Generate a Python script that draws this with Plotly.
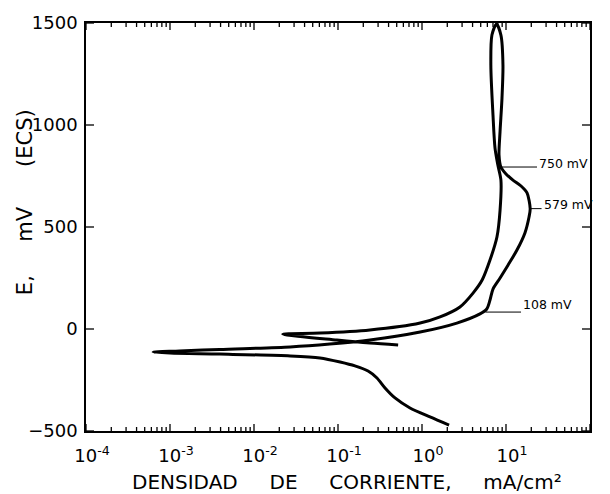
import numpy as np
import plotly.graph_objects as go

# Polarization curve (forward + reverse scan), current density in mA/cm2, potential in mV (ECS)
current = [2.1, 1.245, 0.72, 0.477, 0.363, 0.291, 0.228, 0.159, 0.106, 0.061, 0.027, 0.0039, 0.0010, 0.00063,
           0.0013, 0.0039, 0.027, 0.080, 0.24, 0.95, 2.6, 4.9, 5.9, 6.45, 7.0, 8.5, 10.6, 13.5, 16.8,
           18.8, 19.4, 17.8, 15.1, 12.1, 10.0, 8.7, 8.26, 8.49, 8.96, 9.2, 8.7, 7.7,
           6.8, 6.6, 7.0, 7.4, 8.0, 8.7, 8.5, 7.8, 6.45, 5.2, 4.05, 2.83, 1.64, 0.95, 0.24, 0.061,
           0.022, 0.097, 0.24, 0.52]
potential = [-471, -431, -387, -338, -289, -240, -206, -181, -162, -142, -132, -123, -118, -113,
             -108, -100, -88, -74, -54, -15, 29, 74, 98, 142, 196, 250, 314, 387, 471,
             549, 590, 667, 701, 730, 760, 794, 853, 966, 1132, 1294, 1441, 1495,
             1441, 1294, 1049, 887, 804, 730, 583, 451, 338, 240, 176, 108, 59, 29, -5, -20,
             -25, -54, -69, -78]

# Labelled points: text, leader start current, leader end current, potential
label_text = ["750 mV", "579 mV", "108 mV"]
label_i0 = [8.7, 19.4, 5.7]
label_i1 = [23.4, 26.5, 15.1]
label_E = [794, 590, 83]

x_tickvals = [1e-4, 1e-3, 1e-2, 1e-1, 1e0, 1e1, 1e2]
x_ticktext = ["10<sup>-4</sup>", "10<sup>-3</sup>", "10<sup>-2</sup>", "10<sup>-1</sup>",
              "10<sup>0</sup>", "10<sup>1</sup>", "10<sup>2</sup>"]
y_tickvals = [-500, 0, 500, 1000, 1500]
x_minor = [m * 10.0 ** e for e in range(-4, 2) for m in range(2, 10)]

X_RANGE = [-4, 2]          # log10 decades
Y_RANGE = [-500, 1500]     # mV
FONT = "DejaVu Sans"
W, H = 610, 494
M = dict(l=86, r=20, t=23, b=63)
plot_w = W - M["l"] - M["r"]
plot_h = H - M["t"] - M["b"]

fig = go.Figure()
fig.add_trace(go.Scatter(x=current, y=potential, mode="lines",
                         line=dict(color="black", width=3, shape="spline", smoothing=0.8),
                         hoverinfo="skip"))
for t, a, b, e in zip(label_text, label_i0, label_i1, label_E):
    fig.add_trace(go.Scatter(x=[a, b], y=[e, e], mode="lines",
                             line=dict(color="black", width=1), hoverinfo="skip"))

# Inside tick marks on all four sides (pixel lengths converted through the axis scales)
px_y = (Y_RANGE[1] - Y_RANGE[0]) / plot_h          # mV per pixel
px_x = (X_RANGE[1] - X_RANGE[0]) / plot_w          # decades per pixel
tx, ty = [], []
for vals, ln in [(x_tickvals, 7), (x_minor, 4)]:
    for v in vals:
        tx += [v, v, None, v, v, None]
        ty += [Y_RANGE[0], Y_RANGE[0] + ln * px_y, None, Y_RANGE[1], Y_RANGE[1] - ln * px_y, None]
xl, xr = 10.0 ** X_RANGE[0], 10.0 ** X_RANGE[1]
for v in y_tickvals:
    tx += [xl, xl * 10 ** (8 * px_x), None, xr, xr / 10 ** (8 * px_x), None]
    ty += [v, v, None, v, v, None]
fig.add_trace(go.Scatter(x=tx, y=ty, mode="lines", line=dict(color="black", width=1.3),
                         hoverinfo="skip", cliponaxis=False))

text_dy = [15, 18, 35]
for t, b, e, dy in zip(label_text, label_i1, label_E, text_dy):
    fig.add_annotation(x=np.log10(b) + 0.005, y=e + dy, text=t, showarrow=False,
                       xanchor="left", yanchor="middle",
                       font=dict(family=FONT, size=12.5, color="black"))

fig.add_annotation(xref="paper", yref="paper", x=0.518, y=-0.125,
                   text="DENSIDAD\u00a0\u00a0\u00a0\u00a0\u00a0DE\u00a0\u00a0\u00a0\u00a0\u00a0CORRIENTE,\u00a0\u00a0\u00a0\u00a0\u00a0mA/cm²",
                   showarrow=False, xanchor="center", yanchor="middle",
                   font=dict(family=FONT, size=20, color="black"))
fig.add_annotation(xref="paper", yref="paper", x=-0.121, y=0.561,
                   text="E,\u00a0\u00a0\u00a0\u00a0\u00a0mV\u00a0\u00a0\u00a0\u00a0\u00a0\u00a0(ECS)",
                   showarrow=False, textangle=-90, xanchor="center", yanchor="middle",
                   font=dict(family=FONT, size=21, color="black"))

fig.update_layout(
    width=W, height=H,
    margin=M,
    paper_bgcolor="white", plot_bgcolor="white",
    showlegend=False,
    font=dict(family=FONT, color="black"),
)
fig.update_xaxes(type="log", range=X_RANGE, showgrid=False, zeroline=False,
                 showline=True, linecolor="black", linewidth=1.5, mirror=True,
                 ticks="", tickmode="array", tickvals=x_tickvals, ticktext=x_ticktext,
                 tickfont=dict(family=FONT, size=18, color="black"),
                 ticklabelshift=6, ticklabelstandoff=8)
fig.update_yaxes(range=Y_RANGE, showgrid=False, zeroline=False,
                 showline=True, linecolor="black", linewidth=1.5, mirror=True,
                 ticks="", tickmode="array", tickvals=y_tickvals,
                 tickfont=dict(family=FONT, size=18, color="black"),
                 ticklabelstandoff=3)

fig.write_html("out.html")
